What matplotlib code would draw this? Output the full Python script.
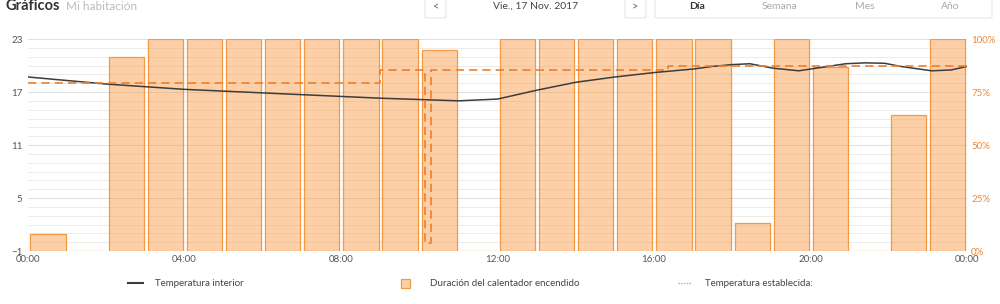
import matplotlib
matplotlib.use("Agg")
import matplotlib.pyplot as plt
from matplotlib.patches import FancyBboxPatch, Rectangle
from matplotlib.lines import Line2D
import numpy as np

plt.rcParams['font.family'] = ['Lato', 'DejaVu Sans']

# ---- data ----
hours = list(range(24))
heater_pct = [8, 0, 91.5, 100, 100, 100, 100, 100, 100, 100, 95, 0,
              100, 100, 100, 100, 100, 100, 13, 100, 87, 0, 64, 100]

temp_t = [0, 1, 2, 3, 4, 5, 6, 7, 8, 9, 10, 11, 12, 13, 14, 15, 16, 17,
          17.5, 18.0, 18.45, 19.04, 19.7, 20.3, 20.9, 21.4, 21.9, 22.3, 23.1, 23.6, 24]
temp_v = [18.7, 18.3, 17.9, 17.6, 17.3, 17.1, 16.9, 16.7, 16.5, 16.3, 16.15, 16.0, 16.2,
          17.2, 18.1, 18.7, 19.2, 19.6, 19.9, 20.1, 20.2, 19.7, 19.4, 19.8, 20.2, 20.3,
          20.25, 19.9, 19.4, 19.5, 19.9]

set_t = [0, 9.0, 9.0, 10.15, 10.15, 10.3, 10.3, 16.35, 16.35, 24]
set_v = [18.0, 18.0, 19.5, 19.5, -0.1, -0.1, 19.5, 19.5, 20.0, 20.0]

left_ticks = [-1, 5, 11, 17, 23]
right_ticks = [0, 25, 50, 75, 100]
x_ticks = [0, 4, 8, 12, 16, 20, 24]
x_labels = ["00:00", "04:00", "08:00", "12:00", "16:00", "20:00", "00:00"]

ORANGE = "#F39A45"
FILL = (250 / 255, 160 / 255, 80 / 255, 0.5)
DARK = "#3C3C3C"

fig = plt.figure(figsize=(10, 3.04), dpi=100)
ax = fig.add_axes([0.028, 0.1743, 0.939, 0.6974])
ax2 = ax.twinx()

ax.set_xlim(0, 24)
ax.set_ylim(-1, 23)
ax2.set_ylim(0, 100)

# grid lines every 1 unit (drawn behind the semi-transparent bars)
for v in range(-1, 24):
    ax2.axhline((v + 1) * 100 / 24, color="#EBEBEB" if (v + 1) % 6 else "#DEDEDE",
                lw=0.7, zorder=0)

ax2.bar([h + 0.06 for h in hours], heater_pct, width=0.9, align='edge',
        color=FILL, edgecolor=ORANGE, linewidth=0.9, zorder=1)

ax2.set_zorder(0)
ax.set_zorder(1)
ax.patch.set_visible(False)

ax.plot(temp_t, temp_v, color=DARK, lw=1.1, zorder=3)
ax.plot(set_t, set_v, color="#EE7F2D", lw=1.2, ls=(0, (5, 3)), zorder=4)

for a in (ax, ax2):
    for s in a.spines.values():
        s.set_visible(False)

ax.set_yticks(left_ticks)
ax.tick_params(axis='y', length=0, labelsize=7, labelcolor="#555555", pad=4)
ax2.set_yticks(right_ticks)
ax2.set_yticklabels([f"{t}%" for t in right_ticks])
ax2.tick_params(axis='y', length=0, labelsize=7, labelcolor="#E8893C", pad=3)
ax.set_xticks(x_ticks)
ax.set_xticklabels(x_labels)
ax.tick_params(axis='x', length=0, labelsize=7, labelcolor="#555555", pad=3)

# ---- header ----
hy = 1 - 6.5 / 304
fig.text(0.005, hy, "Gráficos", fontsize=10.5, fontweight='bold', color="#333333", va='center')
fig.text(0.066, hy, "Mi habitación", fontsize=8.5, color="#BBBBBB", va='center')

def box(x0, y0, w, h):
    fig.patches.append(FancyBboxPatch((x0 / 1000, 1 - (y0 + h) / 304), w / 1000, h / 304,
                                      boxstyle="round,pad=0,rounding_size=0.003",
                                      transform=fig.transFigure, facecolor="white",
                                      edgecolor="#E6E6E6", lw=0.8))

box(425, -2, 21, 20)
box(625, -2, 21, 20)
box(655, -2, 337, 20)
fig.text(435.5 / 1000, hy, "<", fontsize=8, color="#666666", ha='center', va='center')
fig.text(635.5 / 1000, hy, ">", fontsize=8, color="#666666", ha='center', va='center')
fig.text(536 / 1000, hy, "Vie., 17 Nov. 2017", fontsize=7.5, color="#444444", ha='center', va='center')
fig.text(697 / 1000, hy, "Día", fontsize=7.5, fontweight='bold', color="#333333", ha='center', va='center')
fig.text(779 / 1000, hy, "Semana", fontsize=7.5, color="#AAAAAA", ha='center', va='center')
fig.text(865 / 1000, hy, "Mes", fontsize=7.5, color="#AAAAAA", ha='center', va='center')
fig.text(950 / 1000, hy, "Año", fontsize=7.5, color="#AAAAAA", ha='center', va='center')

# ---- legend ----
ly = 1 - 283 / 304
fig.lines.append(Line2D([128 / 1000, 143 / 1000], [ly, ly], color=DARK, lw=1.5, transform=fig.transFigure))
fig.text(155 / 1000, ly, "Temperatura interior", fontsize=7, color="#444444", va='center')
fig.patches.append(Rectangle((401 / 1000, ly - 4.5 / 304), 9 / 1000, 9 / 304, transform=fig.transFigure,
                             facecolor=FILL, edgecolor=ORANGE, lw=0.9))
fig.text(430 / 1000, ly, "Duración del calentador encendido", fontsize=7, color="#444444", va='center')
fig.lines.append(Line2D([678 / 1000, 691 / 1000], [ly, ly], color=ORANGE, lw=1.0, ls=(0, (1, 1)),
                        transform=fig.transFigure))
fig.text(705 / 1000, ly, "Temperatura establecida:", fontsize=7, color="#444444", va='center')

fig.savefig("out.png", dpi=100)
